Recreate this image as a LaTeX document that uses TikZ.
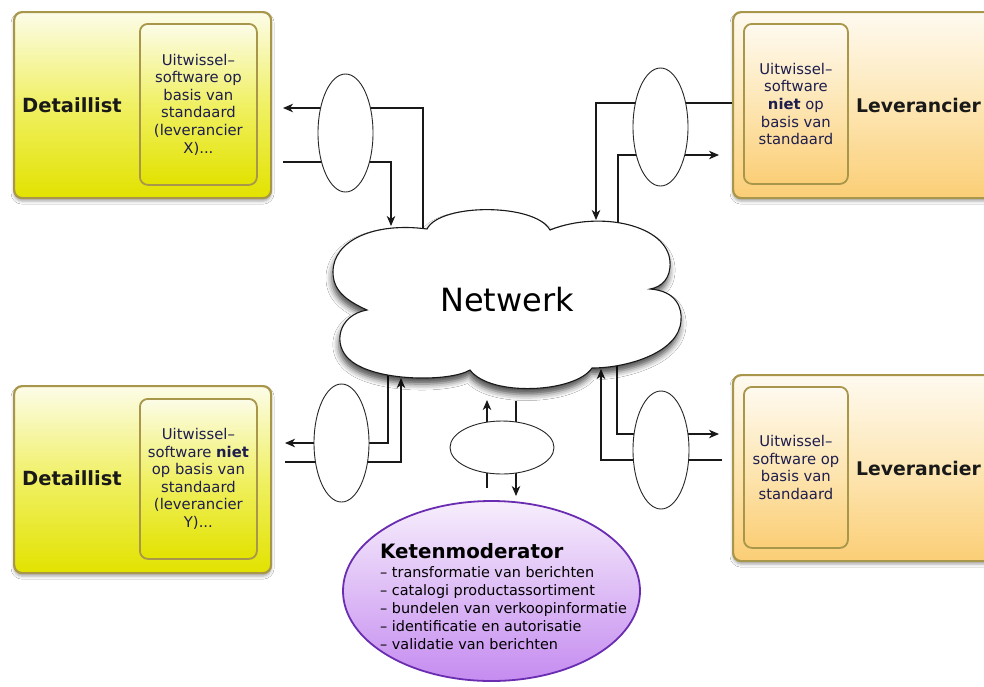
\documentclass[tikz,border=0pt]{standalone}
\usepackage{fontspec}
\setmainfont{DejaVu Sans}
\usetikzlibrary{arrows.meta,shadows.blur,shapes.geometric,backgrounds}

\definecolor{yelTop}{HTML}{FCFCE8}
\definecolor{yelMid}{HTML}{F0F064}
\definecolor{yelBot}{HTML}{E2E200}
\definecolor{oraTop}{HTML}{FEFAF0}
\definecolor{oraMid}{HTML}{FDE6B4}
\definecolor{oraBot}{HTML}{FBCE76}
\definecolor{boxLine}{HTML}{A8964A}
\definecolor{purTop}{HTML}{F7EEFC}
\definecolor{purBot}{HTML}{C58CF0}
\definecolor{purLine}{HTML}{6A2CB0}
\definecolor{swText}{HTML}{1E1E4E}

\begin{document}
\begin{tikzpicture}[x=1pt,y=-1pt,
  party/.style={draw=boxLine, line width=2.2pt, rounded corners=8pt, anchor=north west, inner sep=0pt,
    blur shadow={shadow xshift=0pt, shadow yshift=-3pt, shadow blur radius=3pt, shadow opacity=35}},
  yellowfill/.style={top color=yelTop, bottom color=yelBot, middle color=yelMid},
  orangefill/.style={top color=oraTop, bottom color=oraBot, middle color=oraMid},
  swbox/.style={draw=boxLine, line width=1.8pt, rounded corners=8pt, anchor=north west, inner sep=0pt,
    align=center, text=swText, font=\fontsize{14.8}{17.6}\selectfont},
  title/.style={font=\bfseries\fontsize{19.5}{22}\selectfont, text=black!90, inner sep=0pt},
  adapter/.style={ellipse, draw=black!85, line width=0.9pt, fill=white, inner sep=0pt},
  flow/.style={draw=black!90, line width=1.1pt},
  flowto/.style={flow, -{Stealth[length=10pt,width=8.5pt,inset=3pt]}},
]
\useasboundingbox (0,0) rectangle (984,686);
\fill[white] (0,0) rectangle (984,686);

% ---- parties: retailers (left) and suppliers (right)
\node[party, yellowfill, minimum width=257pt, minimum height=186pt] (dl1) at (13,11) {};
\node[swbox, yellowfill, minimum width=117pt, minimum height=161pt] (sw1) at (139,23)
  {Uitwissel–\\software op\\basis van\\standaard\\(leverancier\\X)...};
\node[title] (dl1t) at (72,105) {Detaillist};

\node[party, yellowfill, minimum width=257pt, minimum height=187pt] (dl2) at (13,385) {};
\node[swbox, yellowfill, minimum width=117pt, minimum height=160pt] (sw2) at (139,398)
  {Uitwissel–\\software \textbf{niet}\\op basis van\\standaard\\(leverancier\\Y)...};
\node[title] (dl2t) at (72,478) {Detaillist};

\node[party, orangefill, minimum width=300pt, minimum height=186pt] (lev1) at (732,11) {};
\node[swbox, orangefill, minimum width=104pt, minimum height=160pt] (sw3) at (743,23)
  {Uitwissel–\\software\\\textbf{niet} op\\basis van\\standaard};
\node[title, anchor=west, font=\bfseries\fontsize{18.8}{22}\selectfont] (lev1t) at (856,105) {Leverancier};

\node[party, orangefill, minimum width=300pt, minimum height=186pt] (lev2) at (732,374) {};
\node[swbox, orangefill, minimum width=104pt, minimum height=161pt] (sw4) at (743,386)
  {Uitwissel–\\software op\\basis van\\standaard};
\node[title, anchor=west, font=\bfseries\fontsize{18.8}{22}\selectfont] (lev2t) at (856,468) {Leverancier};

% ---- chain moderator
\node[ellipse, draw=purLine, line width=1.8pt, top color=purTop, bottom color=purBot,
      minimum width=297pt, minimum height=180pt, inner sep=0pt] (km) at (491.5,591) {};
\node[anchor=base west, inner sep=0pt, font=\bfseries\fontsize{19.8}{22}\selectfont] (kmt) at (380,558) {Ketenmoderator};
\node[anchor=north west, inner sep=0pt, align=left, font=\fontsize{14.4}{17.9}\selectfont] (kml) at (380,566.5)
  {– transformatie van berichten\\– catalogi productassortiment\\– bundelen van verkoopinformatie\\– identificatie en autorisatie\\– validatie van berichten};

% ---- ports where the flows meet the network
\coordinate (nTL1) at (391,226);
\coordinate (nTL2) at (423,233);
\coordinate (nTR1) at (596,220);
\coordinate (nTR2) at (618,225);
\coordinate (nBL1) at (388,372);
\coordinate (nBL2) at (401,378);
\coordinate (nBR1) at (617,364);
\coordinate (nBR2) at (601,369);
\coordinate (nM1)  at (487,400);
\coordinate (nM2)  at (516,401);
% free ends at the parties
\coordinate (pTL1) at (283,108);
\coordinate (pTL2) at (283,162);
\coordinate (pTR1) at (732,103);
\coordinate (pTR2) at (719,155);
\coordinate (pBL1) at (285,443);
\coordinate (pBL2) at (285,462);
\coordinate (pBR1) at (719,434);
\coordinate (pBR2) at (722,460);
\coordinate (kIn)  at (516,496);
\coordinate (kOut) at (487,488);

% ---- message flows
\draw[flowto] (nTL2) |- (pTL1);
\draw[flowto] (pTL2) -| (nTL1);
\draw[flowto] (pTR1) -| (nTR1);
\draw[flowto] (nTR2) |- (pTR2);
\draw[flowto] (nBL1) |- (pBL1);
\draw[flowto] (pBL2) -| (nBL2);
\draw[flowto] (nBR1) |- (pBR1);
\draw[flowto] (pBR2) -| (nBR2);
\draw[flowto] (kOut) -- (nM1);
\draw[flowto] (nM2) -- (kIn);

% ---- network cloud
\path[draw=black!90, line width=1.1pt, fill=white,
      blur shadow={shadow xshift=-1pt, shadow yshift=-6pt, shadow blur radius=6pt, shadow opacity=70}]
  (367,310) .. controls (345,300) and (333,290) .. (333,272)
  .. controls (333,240) and (375,222) .. (427,229)
  .. controls (440,203) and (535,203) .. (550,230)
  .. controls (600,210) and (668,225) .. (670,262)
  .. controls (671,278) and (662,287) .. (650,289)
  .. controls (678,291) and (682,310) .. (681,320)
  .. controls (680,352) and (628,368) .. (592,368)
  .. controls (575,393) and (490,397) .. (470,370)
  .. controls (450,382) and (375,382) .. (350,360)
  .. controls (332,345) and (338,315) .. (367,310) -- cycle;
\node[font=\fontsize{32}{36}\selectfont, inner sep=0pt] (net) at (507,300) {Netwerk};

% ---- adapters on the flows
\node[adapter, minimum width=55pt, minimum height=118pt] (e1) at (345.5,133) {};
\node[adapter, minimum width=55pt, minimum height=118pt] (e2) at (660.5,127) {};
\node[adapter, minimum width=55pt, minimum height=118pt] (e3) at (341.5,443) {};
\node[adapter, minimum width=56pt, minimum height=118pt] (e4) at (661,450) {};
\node[adapter, minimum width=104pt, minimum height=53pt] (e5) at (502,447.5) {};
\end{tikzpicture}
\end{document}
